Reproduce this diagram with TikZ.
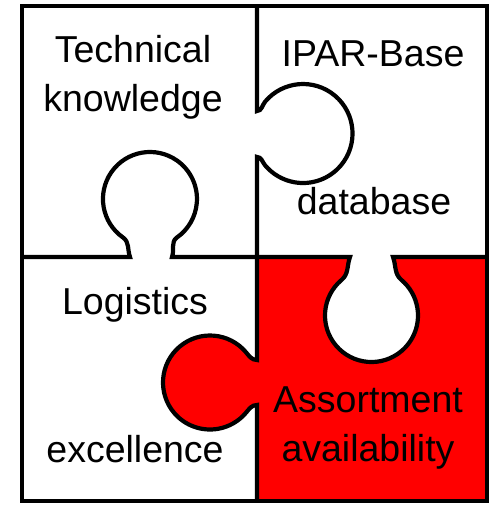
\documentclass[tikz,border=0pt]{standalone}
\usepackage{fontspec}
\setmainfont{Liberation Sans}
\begin{document}
\begin{tikzpicture}[x=1pt, y=1pt, line width=4.2pt,
        label/.style={anchor=base, inner sep=0pt, font=\fontsize{37.5}{45}\selectfont}]
                \useasboundingbox (0,0) rectangle (492,505);

                % red piece
                \fill[red] (257,248) -- (350,248)
                    to[out=-90,in=40] (341.6,225.1) arc[start angle=130,end angle=410,radius=46.5pt]
                    to[out=140,in=-90] (393,248) -- (487,248) -- (487,4) -- (257,4) -- (257,100)
                    to[out=180,in=50] (246,92.3) arc[start angle=320,end angle=40,radius=47pt]
                    to[out=-50,in=180] (257,145) -- cycle;

                % vertical cut
                \draw (257,499) -- (257,394)
                    to[out=0,in=230] (265.1,403.3) arc[start angle=140,end angle=-140,radius=49.5pt]
                    to[out=130,in=0] (257,348) -- (257,145)
                    to[out=180,in=-50] (246,152.7) arc[start angle=40,end angle=320,radius=47pt]
                    to[out=50,in=180] (257,100) -- (257,4);

                % horizontal cut
                \draw (22,248) -- (130,248)
                    to[out=110,in=-35] (123,267.5) arc[start angle=235,end angle=-55,radius=47pt]
                    to[out=215,in=70] (172,248) -- (350,248)
                    to[out=-110,in=40] (341.6,225.1) arc[start angle=130,end angle=410,radius=46.5pt]
                    to[out=140,in=-70] (393,248) -- (487,248);

                % frame
                \draw (22,4) rectangle (487,499);

                \node[label] (tech) at (133,442) {Technical};
                \node[label] (know) at (133,393) {knowledge};
                \node[label] (ipar) at (373,438) {IPAR-Base};
                \node[label] (db) at (374,290) {database};
                \node[label] (logi) at (135,190) {Logistics};
                \node[label] (exc) at (135,42) {excellence};
                \node[label] (assort) at (368,92) {Assortment};
                \node[label] (avail) at (368,43) {availability};
\end{tikzpicture}
\end{document}
